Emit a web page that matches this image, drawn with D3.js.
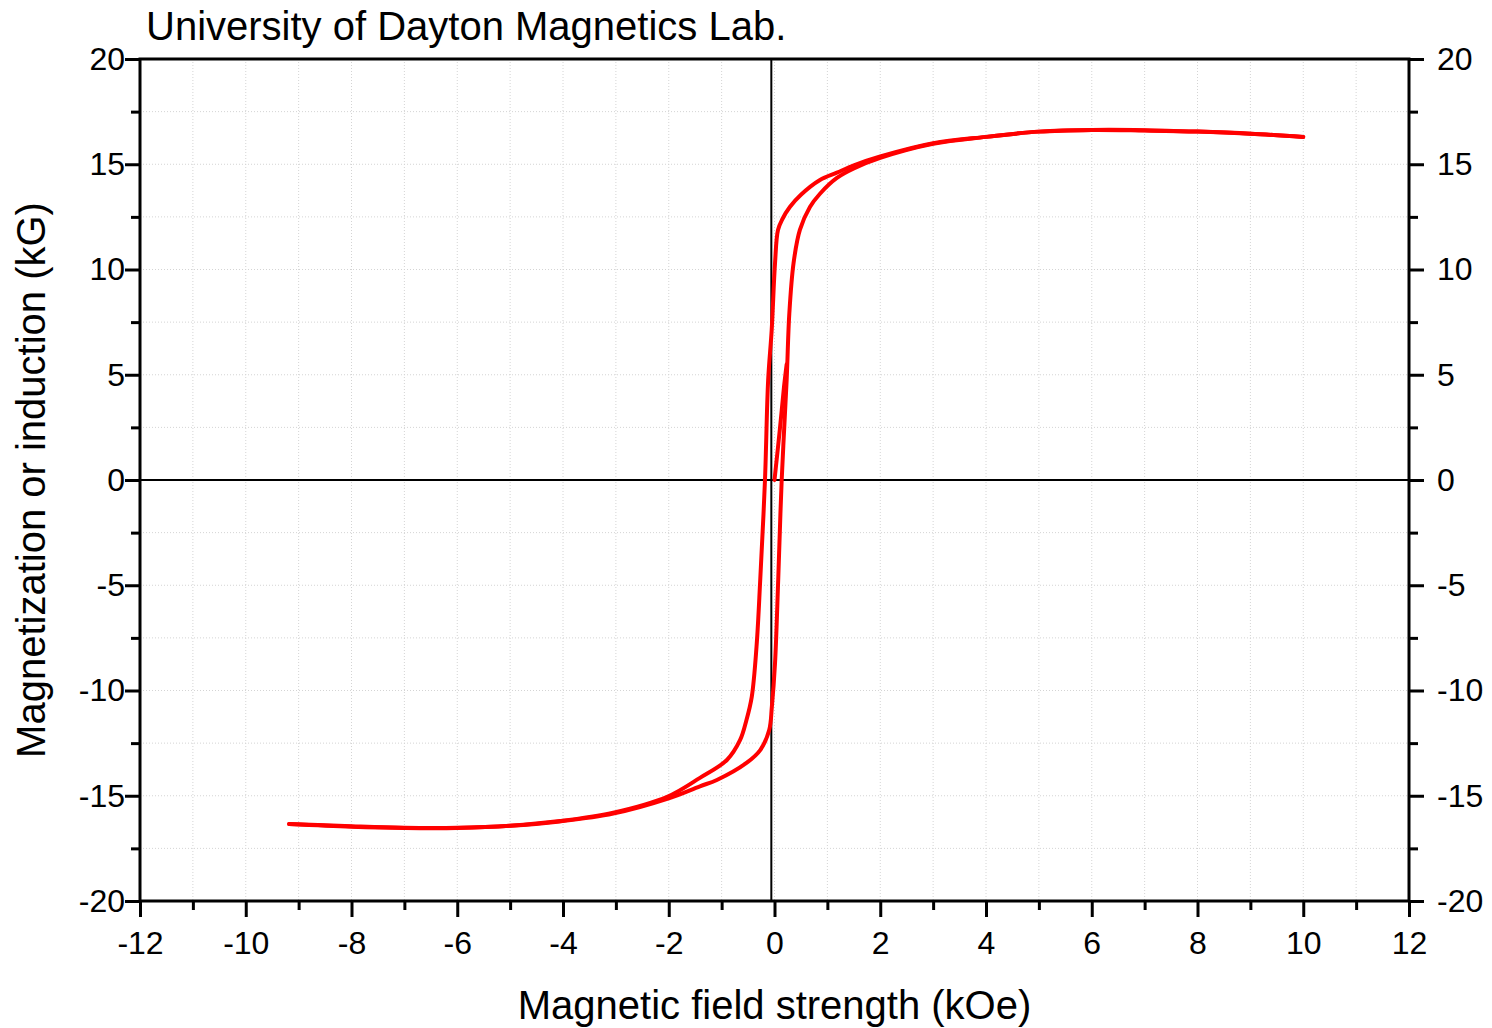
<!DOCTYPE html>
<html>
<head>
<meta charset="utf-8">
<script src="https://cdn.jsdelivr.net/npm/d3@7"></script>
<style>
  body { margin: 0; background: #fff; }
  svg { display: block; font-family: "Liberation Sans", Arial, sans-serif; }
</style>
</head>
<body>
<svg id="chart" width="1492" height="1028"></svg>
<script>
// Hysteresis loop: H in kOe, M in kG
const descendingH = [10, 9, 8, 7, 6, 5, 4, 3, 2, 1.5, 1.18, 0.86, 0.5, 0.29, 0.15, 0.066, 0.01, -0.053, -0.12, -0.18, -0.27, -0.34, -0.43, -0.53, -0.65, -0.9, -1.41, -2.03, -3.05, -4.06, -5, -6, -7, -8, -9.18];
const descendingM = [16.3, 16.45, 16.55, 16.62, 16.63, 16.55, 16.3, 16.0, 15.37, 14.95, 14.6, 14.25, 13.55, 12.97, 12.4, 11.88, 10.3, 7.13, 4.75, 0, -4.75, -7.92, -10.3, -11.4, -12.35, -13.3, -14.15, -15.05, -15.8, -16.2, -16.42, -16.52, -16.52, -16.45, -16.34];

const ascendingH = [-9.18, -8, -7, -6, -5, -4.06, -3.05, -2.03, -1.41, -1.09, -0.53, -0.27, -0.1, -0.05, 0.01, 0.07, 0.136, 0.23, 0.28, 0.36, 0.48, 0.67, 0.86, 1.18, 1.5, 2, 3, 4, 5, 6, 7, 8, 9, 10];
const ascendingM = [-16.34, -16.47, -16.53, -16.53, -16.43, -16.22, -15.85, -15.15, -14.55, -14.25, -13.44, -12.83, -11.88, -10.77, -8.7, -4.75, 0, 4.75, 7.9, 10.3, 11.88, 12.97, 13.6, 14.35, 14.8, 15.3, 15.97, 16.3, 16.55, 16.63, 16.6, 16.55, 16.45, 16.3];

// initial magnetization from the origin until it joins the ascending branch
const virginH = [0, 0.1, 0.18, 0.23];
const virginM = [0, 2.38, 4.43, 5.5];

const xTicks = [-12, -10, -8, -6, -4, -2, 0, 2, 4, 6, 8, 10, 12];
const yTicks = [-20, -15, -10, -5, 0, 5, 10, 15, 20];
const zeroLineH = -0.06;

const svg = d3.select("#chart");
const margin = { top: 59, right: 83, bottom: 127, left: 140 };
const width = 1492 - margin.left - margin.right;
const height = 1028 - margin.top - margin.bottom;

const x = d3.scaleLinear().domain([-12, 12]).range([0, width]);
const y = d3.scaleLinear().domain([-20, 20]).range([height, 0]);

const g = svg.append("g").attr("transform", `translate(${margin.left},${margin.top})`);

// dotted grid
const xGrid = d3.range(-11, 12, 1);
const yGrid = d3.range(-17.5, 18, 2.5);
g.append("g").selectAll("line").data(xGrid).enter().append("line")
  .attr("x1", d => x(d)).attr("x2", d => x(d))
  .attr("y1", 0).attr("y2", height)
  .attr("stroke", "#d4d4d4").attr("stroke-width", 1).attr("stroke-dasharray", "1,2");
g.append("g").selectAll("line").data(yGrid).enter().append("line")
  .attr("x1", 0).attr("x2", width)
  .attr("y1", d => y(d)).attr("y2", d => y(d))
  .attr("stroke", "#d4d4d4").attr("stroke-width", 1).attr("stroke-dasharray", "1,2");

// zero lines
g.append("line").attr("x1", 0).attr("x2", width).attr("y1", y(0)).attr("y2", y(0))
  .attr("stroke", "#000").attr("stroke-width", 2);
g.append("line").attr("x1", x(zeroLineH)).attr("x2", x(zeroLineH)).attr("y1", 0).attr("y2", height)
  .attr("stroke", "#000").attr("stroke-width", 2);

// curves
const line = d3.line()
  .x(d => x(d[0])).y(d => y(d[1]))
  .curve(d3.curveCatmullRom.alpha(0.5));
const series = [
  d3.zip(virginH, virginM),
  d3.zip(ascendingH, ascendingM),
  d3.zip(descendingH, descendingM)
];
g.append("g").selectAll("path").data(series).enter().append("path")
  .attr("d", line)
  .attr("fill", "none")
  .attr("stroke", "#ff0000")
  .attr("stroke-width", 4)
  .attr("stroke-linejoin", "round")
  .attr("stroke-linecap", "round");

// axes
const fontSize = 32;
const fmt = d => String(d);  // plain hyphen minus, as in the original
function styleAxis(sel) {
  sel.select(".domain").remove();
  sel.selectAll(".tick line").attr("stroke", "#000").attr("stroke-width", 3);
  sel.selectAll(".tick text").attr("font-size", fontSize).attr("fill", "#000")
    .attr("font-family", "Liberation Sans, Arial, sans-serif");
}

// minor ticks
g.append("g").attr("transform", `translate(0,${height})`)
  .call(d3.axisBottom(x).tickValues(d3.range(-11, 12, 2)).tickSize(9).tickFormat(""))
  .call(styleAxis);
g.append("g")
  .call(d3.axisLeft(y).tickValues(d3.range(-17.5, 18, 5)).tickSize(9).tickFormat(""))
  .call(styleAxis);
g.append("g").attr("transform", `translate(${width},0)`)
  .call(d3.axisRight(y).tickValues(d3.range(-17.5, 18, 5)).tickSize(9).tickFormat(""))
  .call(styleAxis);

// major ticks
const bottom = g.append("g").attr("transform", `translate(0,${height})`)
  .call(d3.axisBottom(x).tickValues(xTicks).tickSize(16).tickPadding(14).tickFormat(fmt))
  .call(styleAxis);
bottom.selectAll(".tick text").attr("dy", "0.71em");
g.append("g")
  .call(d3.axisLeft(y).tickValues(yTicks).tickSize(15).tickPadding(0).tickFormat(fmt))
  .call(styleAxis);
g.append("g").attr("transform", `translate(${width},0)`)
  .call(d3.axisRight(y).tickValues(yTicks).tickSize(15).tickPadding(13).tickFormat(fmt))
  .call(styleAxis);

// frame
g.append("rect").attr("width", width).attr("height", height)
  .attr("fill", "none").attr("stroke", "#000").attr("stroke-width", 3);

// titles
svg.append("text").attr("x", 146).attr("y", 40)
  .attr("font-size", 40).attr("fill", "#000")
  .text("University of Dayton Magnetics Lab.");
svg.append("text").attr("x", margin.left + x(0)).attr("y", 1019)
  .attr("text-anchor", "middle").attr("font-size", 40).attr("fill", "#000")
  .text("Magnetic field strength (kOe)");
svg.append("text")
  .attr("transform", `translate(45,${margin.top + y(0)}) rotate(-90)`)
  .attr("text-anchor", "middle").attr("font-size", 40).attr("fill", "#000")
  .text("Magnetization or induction (kG)");
</script>
</body>
</html>
